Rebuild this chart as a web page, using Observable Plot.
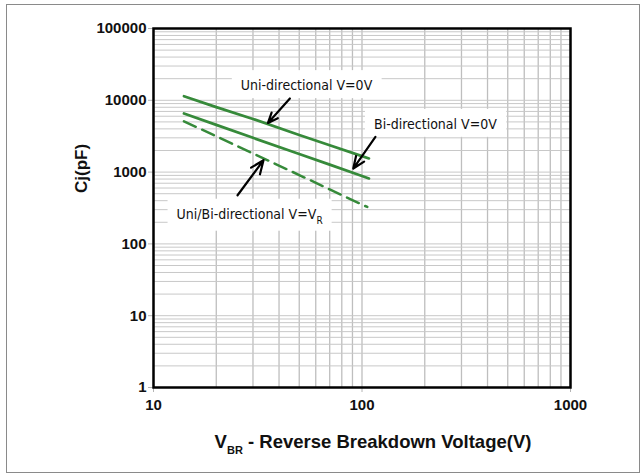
<!DOCTYPE html>
<html><head><meta charset="utf-8">
<script src="https://cdn.jsdelivr.net/npm/d3@7"></script>
<script src="https://cdn.jsdelivr.net/npm/@observablehq/plot@0.6"></script>
<style>
html,body{margin:0;padding:0;background:#fff;}
#wrap{position:relative;width:644px;height:473px;overflow:hidden;}
#border{position:absolute;left:6px;top:4px;width:632px;height:467px;border:1px solid #8a8a8a;pointer-events:none;}
g[aria-label^="x-axis"] text, g[aria-label^="y-axis"] text{font-weight:bold;font-size:15px;fill:#111;}
g[aria-label="x-axis tick"], g[aria-label="y-axis tick"]{stroke:#b4b4b4;}
g[aria-label="x-axis"] .tick line, g[aria-label="y-axis"] .tick line{stroke:#b4b4b4;}
</style></head><body><div id="wrap"><div id="chart"></div><div id="border"></div></div>
<script>
// Breakdown voltage (V) and junction capacitance (pF)
const vbr = [14, 20, 30, 50, 70, 100, 108];
const uniV0 = [11400, 8030, 5500, 3280, 2360, 1670, 1550];
const biV0 = [6550, 4550, 3000, 1790, 1270, 880, 815];
const vbrVR = [14, 20, 30, 50, 70, 100, 106];
const uniBiVR = [5100, 3150, 1820, 910, 575, 353, 327];

const xTicks = [10, 100, 1000];
const yTicks = [1, 10, 100, 1000, 10000, 100000];

const annLabels = ["Uni-directional V=0V", "Bi-directional V=0V", "Uni/Bi-directional V=VR"];
const annX = [54.2, 225, 28.9];
const annY = [16000, 4620, 259];
const arrowFrom = [[45.1, 10600], [116, 3090], [25.3, 476]];
const arrowTo = [[35.4, 4840], [90.8, 1122], [33.7, 1465]];

const xLabel = "VBR - Reverse Breakdown Voltage(V)";
const yLabel = "Cj(pF)";

const series = [
  ...vbr.map((v, i) => ({x: v, y: uniV0[i], s: "uni"})),
  ...vbr.map((v, i) => ({x: v, y: biV0[i], s: "bi"})),
];
const dashed = vbrVR.map((v, i) => ({x: v, y: uniBiVR[i]}));
const ann = annLabels.map((t, i) => ({x: annX[i], y: annY[i], t}));
const arrows = arrowFrom.map((f, i) => ({x1: f[0], y1: f[1], x2: arrowTo[i][0], y2: arrowTo[i][1]}));

const xGrid = d3.scaleLog().domain([10, 1000]).ticks();
const yGrid = d3.scaleLog().domain([1, 100000]).ticks();

const green = "#368a3a";
const plot = Plot.plot({
  width: 644, height: 473,
  marginLeft: 153, marginRight: 74, marginTop: 28, marginBottom: 86,
  style: {fontFamily: "'Liberation Sans', Arial, sans-serif", background: "transparent", overflow: "visible"},
  x: {type: "log", domain: [10, 1000], ticks: xTicks, tickFormat: d => String(d), tickSize: 5, tickPadding: 7, label: null},
  y: {type: "log", domain: [1, 100000], ticks: yTicks, tickFormat: d => String(d), tickSize: 5, tickPadding: 2, label: null},
  marks: [
    Plot.ruleX(xGrid, {stroke: "#bebebe", strokeWidth: 1.3}),
    Plot.ruleY(yGrid, {stroke: "#c8c8c8", strokeWidth: 1}),
    Plot.line(series, {x: "x", y: "y", z: "s", stroke: green, strokeWidth: 2.7}),
    Plot.line(dashed, {x: "x", y: "y", stroke: green, strokeWidth: 2.5, strokeDasharray: "13,7"}),
    Plot.text(ann, {x: "x", y: "y", text: "t", fontFamily: "'Liberation Sans Narrow', 'DejaVu Sans Condensed', sans-serif", fontSize: 14, fill: "#111", fontWeight: "normal"}),
    Plot.arrow(arrows, {x1: "x1", y1: "y1", x2: "x2", y2: "y2", stroke: "#000", strokeWidth: 2.2, headLength: 11, headAngle: 45}),
    Plot.frame({stroke: "#000", strokeWidth: 2.5}),
    Plot.text([yLabel], {frameAnchor: "left", dx: -72, dy: -15, rotate: -90, fontWeight: "bold", fontSize: 17, fill: "#111"}),
    Plot.text([xLabel], {frameAnchor: "bottom", dx: 11, dy: 60, fontWeight: "bold", fontSize: 18.5, fill: "#111"})
  ]
});
document.getElementById("chart").appendChild(plot);
const svg = d3.select(plot);

// subscripts
svg.selectAll("text").each(function() {
  const t = this.textContent;
  if (t === xLabel) {
    this.textContent = "";
    const s = d3.select(this);
    s.append("tspan").text("V");
    s.append("tspan").attr("font-size", 11).attr("dy", 6).text("BR");
    s.append("tspan").attr("dy", -6).text(" - Reverse Breakdown Voltage(V)");
  } else if (t === annLabels[2]) {
    this.textContent = "";
    const s = d3.select(this);
    s.append("tspan").text("Uni/Bi-directional V=V");
    s.append("tspan").attr("font-size", 10).attr("dy", 5).text("R");
  }
});
// white boxes behind annotation labels
svg.selectAll("text").each(function() {
  const t = this.textContent;
  if (annLabels.includes(t)) {
    const b = this.getBBox();
    const r = document.createElementNS("http://www.w3.org/2000/svg", "rect");
    r.setAttribute("x", b.x - 9); r.setAttribute("y", b.y - 7);
    r.setAttribute("width", b.width + 18); r.setAttribute("height", b.height + 12);
    r.setAttribute("fill", "#fff");
    const tr = this.getAttribute("transform");
    if (tr) r.setAttribute("transform", tr);
    this.parentNode.insertBefore(r, this);
  }
});
</script></body></html>
